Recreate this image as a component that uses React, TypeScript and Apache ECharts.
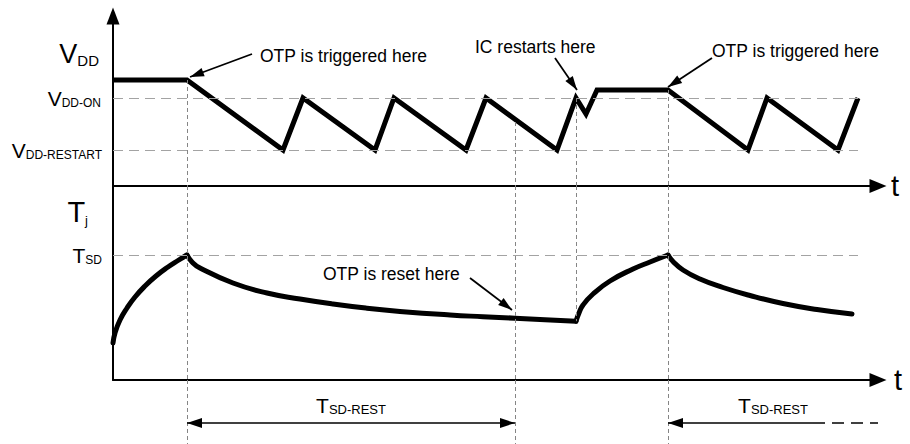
import React, { useEffect, useRef } from "react";
import * as echarts from "echarts";

const FONT = '"Liberation Sans", Arial, Helvetica, sans-serif';

// ---- axis extents (arbitrary units) ----
const TIME_MAX = 76.5;
const VDD_AXIS_MAX = 42.5;
const TJ_AXIS_MAX = 194;
const STRIP_MAX = 64;

// ---- reference levels ----
const VDD_ON = 22;
const VDD_RESTART = 9;
const T_SD = 125;
const REF_LINE_END = 74.5;

// ---- VDD waveform [t, VDD] ----
const vddWave: number[][] = [
  [0, 26.5], [7.4, 26.5], [17, 9], [19, 22], [26.2, 9], [28.1, 22], [35.3, 9],
  [37.3, 22], [44.4, 9], [46.3, 22], [47.3, 18], [48.4, 24], [55.5, 24],
  [63.5, 9], [65.4, 22], [72.5, 9], [74.5, 22],
];

// ---- Tj waveform segments [t, Tj] ----
const tjRise1: number[][] = [
  [0, 37], [0.2, 47], [0.7, 60], [1.4, 72], [2.2, 83], [3.2, 94], [4.3, 104],
  [5.5, 113], [6.5, 119.5], [7.4, 125],
];
const tjDecay1: number[][] = [
  [7.4, 125], [7.9, 118], [8.7, 112], [12, 97], [15.4, 87], [18.7, 81], [22, 76],
  [25.4, 71.8], [28.7, 68.6], [33.7, 65], [37, 63.3], [40.2, 61.8], [43.2, 60.3], [46.3, 58.8],
];
const tjRise2: number[][] = [
  [46.3, 58.8], [46.6, 67], [47, 75], [48, 86], [49.7, 99], [52, 111], [53.7, 118], [55.5, 125],
];
const tjDecay2: number[][] = [
  [55.5, 125], [56, 118.5], [57, 110], [58.7, 101], [61, 92.5], [63.7, 84.5], [67, 76.5],
  [70.4, 70.5], [73.9, 66],
];

// ---- event times ----
const tOtp1 = 7.4;
const tReset = 40.2;
const tRestart = 46.3;
const tOtp2 = 55.5;

// vertical guides: [t, upper VDD value] / [t, lower Tj value]
const guideTop: number[][] = [[tOtp1, 26.5], [tReset, 16], [tRestart, 22], [tOtp2, 24]];
const guideTj: number[][] = [[tOtp1, 0], [tReset, 0], [tRestart, 58.8], [tOtp2, 0]];
const guideStrip: number[] = [tOtp1, tReset, tOtp2];

// annotation arrows: [tailT, tailV, headT, headV]
const arrowsTop: number[][] = [[13.9, 33, 7.7, 27.25], [44.2, 32, 46.4, 24], [59.9, 32, 55.5, 24.75]];
const arrowsTj: number[][] = [[35.7, 102, 39.9, 70]];

// annotation texts
const notesTop = [
  { text: "OTP is triggered here", t: 14.7, v: 32.5 },
  { text: "IC restarts here", t: 36.2, v: 34.75 },
  { text: "OTP is triggered here", t: 59.9, v: 33.75 },
];
const notesTj = [{ text: "OTP is reset here", t: 21, v: 106 }];

// axis labels (main letter + subscript)
const labelsTop = [
  { main: "V", sub: "DD", v: 32.9 },
  { main: "V", sub: "DD-ON", v: VDD_ON },
  { main: "V", sub: "DD-RESTART", v: VDD_RESTART },
];
const labelsTj = [
  { main: "T", sub: "j", v: 167.8 },
  { main: "T", sub: "SD", v: T_SD },
];
const labelStyles = [
  { fMain: 27, fSub: 15, gap: 14 },
  { fMain: 21, fSub: 12, gap: 12 },
  { fMain: 21, fSub: 12, gap: 11 },
];
const labelStylesTj = [
  { fMain: 29, fSub: 13, gap: 25 },
  { fMain: 21, fSub: 12, gap: 11 },
];

// T_SD-REST spans in lower strip
const restSpan1: number[] = [tOtp1, tReset];
const restSpan2: number[] = [tOtp2, 70, TIME_MAX];
const SPAN_LEVEL = 21;
const SPAN_LABEL_LEVEL = 38.5;
const spanLabels = [
  { t: (restSpan1[0] + restSpan1[1]) / 2 },
  { t: (restSpan2[0] + restSpan2[2]) / 2 },
];

// ---- styles ----
const refStyle = { color: "#a3a3a3", width: 1.2, type: [10, 6] };
const guideStyle = { color: "#858585", width: 1, type: [4, 3] };
const arrowStyle = { color: "#000", width: 1.8, type: "solid" };
const spanStyle = { color: "#000", width: 1.6, type: "solid" };
const spanDashStyle = { color: "#000", width: 1.6, type: [12, 7] };
const noSym = { symbol: "none" };
const arrowHead = { symbol: "triangle", symbolSize: [9, 14], symbolOffset: [0, 7] };
const spanHead = { symbol: "triangle", symbolSize: [10, 15], symbolOffset: [0, 7.5] };

function seg(a: number[], b: number[], style: any, fromSym: any = noSym, toSym: any = noSym) {
  return [
    { coord: a, lineStyle: style, ...fromSym },
    { coord: b, ...toSym },
  ];
}

function markLine(data: any[]) {
  return {
    silent: true,
    symbol: "none",
    animation: false,
    label: { show: false },
    emphasis: { disabled: true },
    data,
  };
}

function timeAxis(gridIndex: number, visible: boolean, nameGap: number) {
  return {
    type: "value",
    gridIndex,
    min: 0,
    max: TIME_MAX,
    show: visible,
    axisLine: {
      show: true,
      onZero: false,
      symbol: ["none", "triangle"],
      symbolSize: [14, 17],
      lineStyle: { color: "#000", width: 2 },
    },
    axisTick: { show: false },
    axisLabel: { show: false },
    splitLine: { show: false },
    name: visible ? "t" : "",
    nameLocation: "end",
    nameGap,
    nameTextStyle: { fontSize: 29, fontFamily: FONT, color: "#000" },
  };
}

function valueAxis(gridIndex: number, max: number, visible: boolean, arrow: boolean) {
  return {
    type: "value",
    gridIndex,
    min: 0,
    max,
    show: visible,
    axisLine: {
      show: true,
      onZero: false,
      symbol: arrow ? ["none", "triangle"] : ["none", "none"],
      symbolSize: [13, 17],
      lineStyle: { color: "#000", width: 2 },
    },
    axisTick: { show: false },
    axisLabel: { show: false },
    splitLine: { show: false },
  };
}

function tjSeries(data: number[][], ml?: any) {
  const s: any = {
    type: "line",
    xAxisIndex: 1,
    yAxisIndex: 1,
    data,
    smooth: 0.5,
    symbol: "none",
    silent: true,
    lineStyle: { color: "#000", width: 5, cap: "round", join: "round" },
  };
  if (ml) s.markLine = ml;
  return s;
}

const option: any = {
  animation: false,
  backgroundColor: "#ffffff",
  grid: [
    { left: 113, top: 16, width: 765, height: 170 },
    { left: 113, top: 186, width: 765, height: 194 },
    { left: 113, top: 380, width: 765, height: 64 },
  ],
  xAxis: [timeAxis(0, true, 13), timeAxis(1, true, 16), timeAxis(2, false, 0)],
  yAxis: [
    valueAxis(0, VDD_AXIS_MAX, true, true),
    valueAxis(1, TJ_AXIS_MAX, true, false),
    valueAxis(2, STRIP_MAX, false, false),
  ],
  series: [
    {
      type: "line",
      xAxisIndex: 0,
      yAxisIndex: 0,
      data: vddWave,
      symbol: "none",
      silent: true,
      lineStyle: { color: "#000", width: 5, join: "miter", cap: "butt" },
      markLine: markLine([
        seg([0, VDD_ON], [REF_LINE_END, VDD_ON], refStyle),
        seg([0, VDD_RESTART], [REF_LINE_END, VDD_RESTART], refStyle),
        ...guideTop.map(([t, v]) => seg([t, v], [t, 0], guideStyle)),
        ...arrowsTop.map(([a, b, c, d]) => seg([a, b], [c, d], arrowStyle, noSym, arrowHead)),
      ]),
    },
    tjSeries(
      tjRise1,
      markLine([
        seg([0, T_SD], [REF_LINE_END, T_SD], refStyle),
        ...guideTj.map(([t, low]) => seg([t, TJ_AXIS_MAX], [t, low], guideStyle)),
        ...arrowsTj.map(([a, b, c, d]) => seg([a, b], [c, d], arrowStyle, noSym, arrowHead)),
      ])
    ),
    tjSeries(tjDecay1),
    tjSeries(tjRise2),
    tjSeries(tjDecay2),
    {
      type: "line",
      xAxisIndex: 2,
      yAxisIndex: 2,
      data: [],
      symbol: "none",
      silent: true,
      markLine: markLine([
        ...guideStrip.map((t) => seg([t, STRIP_MAX], [t, 0], guideStyle)),
        seg([restSpan1[0], SPAN_LEVEL], [restSpan1[1], SPAN_LEVEL], spanStyle, spanHead, spanHead),
        seg([restSpan2[0], SPAN_LEVEL], [restSpan2[1], SPAN_LEVEL], spanStyle, spanHead, noSym),
        seg([restSpan2[1], SPAN_LEVEL], [restSpan2[2], SPAN_LEVEL], spanDashStyle),
      ]),
    },
  ],
};

function richLabel(main: string, sub: string, fMain: number, fSub: number) {
  return {
    text: `{m|${main}}{s|${sub}}`,
    rich: {
      m: { fontSize: fMain, lineHeight: fMain, verticalAlign: "bottom", fontFamily: FONT, fill: "#000" },
      s: {
        fontSize: fSub,
        lineHeight: 0.7 * fSub + 0.3 * fMain,
        verticalAlign: "bottom",
        fontFamily: FONT,
        fill: "#000",
      },
    },
  };
}

export default function App() {
  const ref = useRef<HTMLDivElement>(null);
  useEffect(() => {
    document.body.style.margin = "0";
    const chart = echarts.init(ref.current!, null, { renderer: "svg" });
    chart.setOption(option);

    const px = (g: number, t: number, v: number) =>
      chart.convertToPixel({ gridIndex: g } as any, [t, v]) as number[];

    const graphic: any[] = [];
    labelsTop.forEach((l, i) => {
      const st = labelStyles[i];
      const p = px(0, 0, l.v);
      graphic.push({
        type: "text",
        x: p[0] - st.gap,
        y: p[1],
        silent: true,
        style: { ...richLabel(l.main, l.sub, st.fMain, st.fSub), align: "right", verticalAlign: "middle" },
      });
    });
    labelsTj.forEach((l, i) => {
      const st = labelStylesTj[i];
      const p = px(1, 0, l.v);
      graphic.push({
        type: "text",
        x: p[0] - st.gap,
        y: p[1],
        silent: true,
        style: { ...richLabel(l.main, l.sub, st.fMain, st.fSub), align: "right", verticalAlign: "middle" },
      });
    });
    const note = (g: number, n: { text: string; t: number; v: number }) => {
      const p = px(g, n.t, n.v);
      graphic.push({
        type: "text",
        x: p[0],
        y: p[1],
        silent: true,
        style: {
          text: n.text,
          fontSize: 17.5,
          fontFamily: FONT,
          fill: "#000",
          align: "left",
          verticalAlign: "middle",
        },
      });
    };
    notesTop.forEach((n) => note(0, n));
    notesTj.forEach((n) => note(1, n));
    spanLabels.forEach((s) => {
      const p = px(2, s.t, SPAN_LABEL_LEVEL);
      graphic.push({
        type: "text",
        x: p[0],
        y: p[1],
        silent: true,
        style: { ...richLabel("T", "SD-REST", 21, 13), align: "center", verticalAlign: "middle" },
      });
    });
    chart.setOption({ graphic });
    return () => chart.dispose();
  }, []);
  return (
    <div
      ref={ref}
      style={{ position: "absolute", left: 0, top: 0, width: 910, height: 444 }}
    />
  );
}
